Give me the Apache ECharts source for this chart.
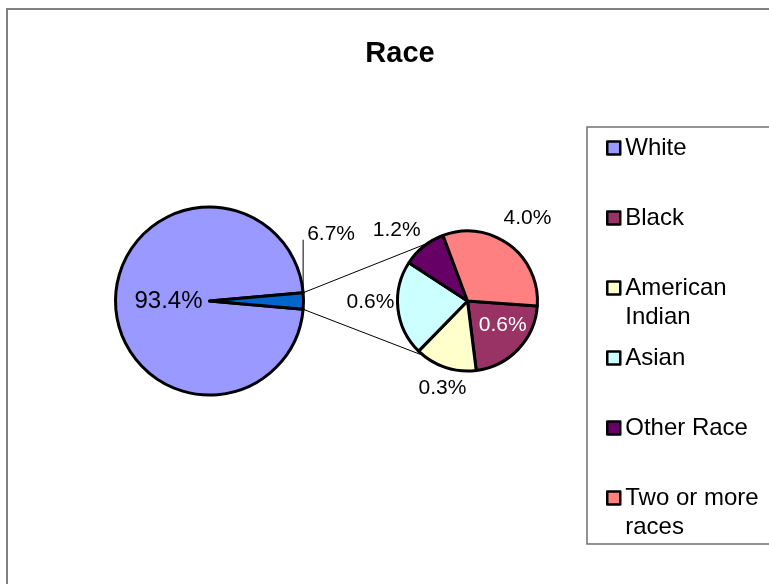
<!DOCTYPE html>
<html><head><meta charset="utf-8">
<script src="https://cdn.jsdelivr.net/npm/echarts@6/dist/echarts.min.js"></script>
<style>html,body{margin:0;padding:0;background:#fff}#c{width:769px;height:584px}</style>
</head><body><div id="c"></div>
<script>
// ---------------- data ----------------
const categories = ['White', 'Black', 'American Indian', 'Asian', 'Other Race', 'Two or more races'];
// primary pie: White vs. the combined remainder (slice sizes as drawn, % of circle)
const mainNames = ['White', 'All other races'];
const mainValues = [97.2, 2.8];
const mainLabels = ['93.4%', '6.7%'];
// secondary pie: breakdown of the remainder (slice sizes as drawn, % of small circle)
const subNames = ['Black', 'American Indian', 'Asian', 'Other Race', 'Two or more races'];
const subValues = [21.9, 14.3, 21.9, 10.1, 31.8];
const subLabels = ['0.6%', '0.3%', '0.6%', '1.2%', '4.0%'];
// legend text wrapping
const legendLines = { 'American Indian': ['American', 'Indian'], 'Two or more races': ['Two or more', 'races'] };

// ---------------- styles / layout ----------------
const colors = {
  'White': '#9999FF', 'All other races': '#0066CC', 'Black': '#993366',
  'American Indian': '#FFFFCC', 'Asian': '#CCFFFF', 'Other Race': '#660066',
  'Two or more races': '#FF8080'
};
const FONT = '"Liberation Sans", Arial, Helvetica, sans-serif';
const MAIN = { cx: 209.5, cy: 301, r: 94 };
const SUB = { cx: 467.5, cy: 301, r: 70, start: -4 };
const LEADER = 53;                       // vertical leader of the "other" slice label
const mainLabelPolar = [[180, 41]];      // [angle deg, distance] from pie centre
const mainLabelSize = [24, 21];
const subLabelPolar = [[-35, 43], [254, 91], [181, 97], [135, 100], [54, 102]];
const subLabelColor = ['#FFFFFF', '#000', '#000', '#000', '#000'];
const connectorAngles = [124, 231.5];    // where connectors meet the small pie

const rad = d => d * Math.PI / 180;
const polar = (c, a, d) => [c.cx + d * Math.cos(rad(a)), c.cy - d * Math.sin(rad(a))];

const mainSum = mainValues.reduce((a, b) => a + b, 0);
const half = mainValues[1] / mainSum * 180;
const edgeTop = polar(MAIN, half, MAIN.r);
const edgeBot = polar(MAIN, -half, MAIN.r);

const chart = echarts.init(document.getElementById('c'), null, { renderer: 'canvas' });

const mainData = mainNames.map((n, i) => ({
  name: n, value: mainValues[i],
  itemStyle: { color: colors[n] },
  label: { formatter: mainLabels[i], fontSize: mainLabelSize[i] },
  labelLine: { show: i === 1, lineStyle: { color: '#000', width: 1 } }
}));
const subData = subNames.map((n, i) => ({
  name: n, value: subValues[i],
  itemStyle: { color: colors[n] },
  label: { formatter: subLabels[i], color: subLabelColor[i] }
}));

const s1 = polar(SUB, connectorAngles[0], SUB.r);
const s2 = polar(SUB, connectorAngles[1], SUB.r);

chart.setOption({
  animation: false,
  backgroundColor: '#fff',
  title: {
    text: 'Race', left: 400, top: 39, padding: 0, textAlign: 'center',
    textStyle: { fontSize: 29, fontWeight: 'bold', fontFamily: FONT, color: '#000' }
  },
  legend: {
    orient: 'vertical', left: 606, top: 104.5, padding: 0, itemGap: -17,
    itemWidth: 13, itemHeight: 13, icon: 'rect', selectedMode: false,
    data: categories,
    formatter: name => legendLines[name] ? '\n' + legendLines[name].join('\n') : '\n' + name + '\n',
    textStyle: { fontSize: 24, lineHeight: 29, fontFamily: FONT, color: '#000' },
    itemStyle: { borderColor: '#000', borderWidth: 2.5 }
  },
  graphic: [
    { type: 'rect', z: -10, shape: { x: 7, y: 9, width: 900, height: 700 }, style: { fill: 'none', stroke: '#808080', lineWidth: 2 } },
    { type: 'rect', z: -10, shape: { x: 587, y: 127, width: 300, height: 417 }, style: { fill: 'none', stroke: '#707070', lineWidth: 1.5 } },
    { type: 'line', z: 10, shape: { x1: edgeTop[0], y1: edgeTop[1], x2: s1[0], y2: s1[1] }, style: { stroke: '#000', lineWidth: 1 } },
    { type: 'line', z: 10, shape: { x1: edgeBot[0], y1: edgeBot[1], x2: s2[0], y2: s2[1] }, style: { stroke: '#000', lineWidth: 1 } }
  ],
  series: [
    {
      type: 'pie', name: 'main', center: [MAIN.cx, MAIN.cy], radius: MAIN.r,
      clockwise: false, startAngle: half, avoidLabelOverlap: false,
      emphasis: { disabled: true }, silent: true,
      itemStyle: { borderColor: '#000', borderWidth: 3 },
      label: { show: true, position: 'outside', fontSize: 21, fontFamily: FONT, color: '#000' },
      labelLine: { length: 10, length2: 0 },
      labelLayout: p => {
        if (p.dataIndex === 0) {
          const [x, y] = polar(MAIN, mainLabelPolar[0][0], mainLabelPolar[0][1]);
          return { x, y, align: 'center', verticalAlign: 'middle' };
        }
        const topY = edgeTop[1] - LEADER;
        return {
          x: edgeTop[0] + 4, y: topY - 6, align: 'left', verticalAlign: 'middle',
          labelLinePoints: [[edgeTop[0], edgeTop[1]], [edgeTop[0], topY], [edgeTop[0], topY]]
        };
      },
      data: mainData
    },
    {
      type: 'pie', name: 'sub', center: [SUB.cx, SUB.cy], radius: SUB.r,
      clockwise: true, startAngle: SUB.start, avoidLabelOverlap: false,
      emphasis: { disabled: true }, silent: true,
      itemStyle: { borderColor: '#000', borderWidth: 3 },
      label: { show: true, position: 'outside', fontSize: 21, fontFamily: FONT },
      labelLine: { show: false },
      labelLayout: p => {
        const [a, d] = subLabelPolar[p.dataIndex];
        const [x, y] = polar(SUB, a, d);
        return { x, y, align: 'center', verticalAlign: 'middle' };
      },
      data: subData
    }
  ]
});
</script>
</body></html>
